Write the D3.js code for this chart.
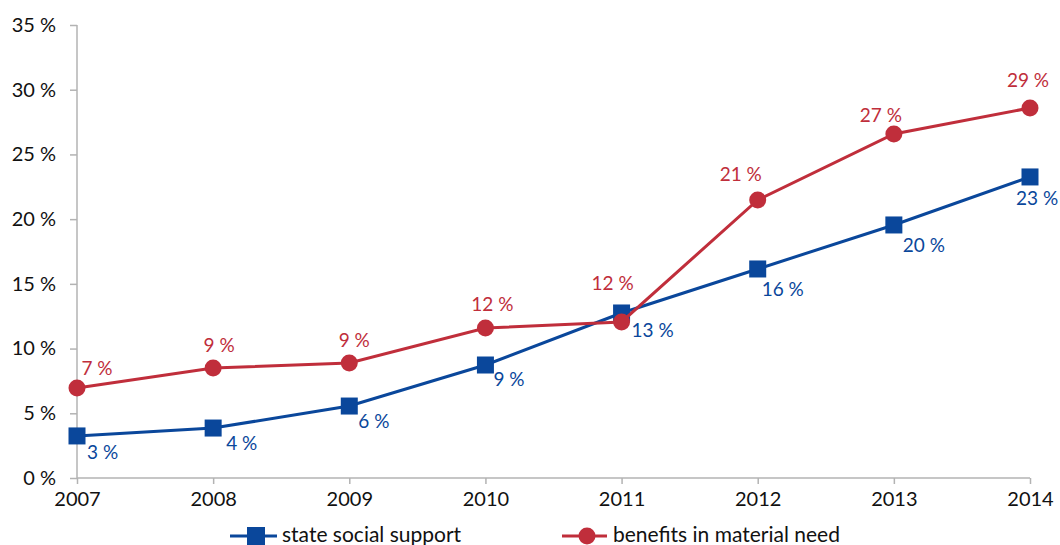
<!DOCTYPE html>
<html><head><meta charset="utf-8">
<script src="https://cdn.jsdelivr.net/npm/d3@7"></script>
<style>body{margin:0;background:#fff}svg{display:block}text{font-family:Lato,sans-serif}</style>
</head><body>
<svg id="c" width="1060" height="545"></svg>
<script>
const years = [2007, 2008, 2009, 2010, 2011, 2012, 2013, 2014];
const stateSocialSupport = [3.25, 3.86, 5.56, 8.73, 12.75, 16.15, 19.55, 23.26];
const benefitsMaterialNeed = [6.95, 8.5, 8.89, 11.59, 12.06, 21.48, 26.58, 28.59];
const yTicks = [0, 5, 10, 15, 20, 25, 30, 35];
const seriesNames = ["state social support", "benefits in material need"];

// label placement (layout only)
const blueLabelDx = [10, 13, 9, 8, 10, 4, 9, -14];
const blueLabelDy = [23, 22, 22, 21, 24, 27, 27, 28];
const redLabelDx = [20, 6, 5, 7, -9, -17, -13, -2];
const redLabelDy = [-13, -16, -16, -17, -32, -19, -12, -21];

const svg = d3.select("#c");
const blue = "#0a479b", red = "#c02e3b", axisCol = "#b3b3b3";
const x = d3.scalePoint().domain(years).range([77, 1030]);
const y = d3.scaleLinear().domain([0, 35]).range([478, 25]);

const ya = svg.append("g").attr("transform", "translate(77,0)")
  .call(d3.axisLeft(y).tickValues(yTicks).tickSize(7).tickPadding(14).tickFormat(d => d + " %"));
const xa = svg.append("g").attr("transform", "translate(0,478)")
  .call(d3.axisBottom(x).tickSize(6).tickPadding(8).tickFormat(d3.format("d")));
[ya, xa].forEach(a => {
  a.selectAll("path,line").attr("stroke", axisCol).attr("stroke-width", 1.5);
  a.selectAll("text").attr("fill", "#111").style("font-size", "20px").style("font-family", "Lato,sans-serif");
});
ya.select("path").attr("d", "M0,25V478");
xa.select("path").attr("d", "M77,0H1030");

const line = d3.line().x((d, i) => x(years[i])).y(d => y(d));

function drawSeries(vals, col, marker, dxs, dys, anchor) {
  svg.append("path").datum(vals).attr("d", line).attr("fill", "none")
    .attr("stroke", col).attr("stroke-width", 3);
  const g = svg.append("g");
  vals.forEach((v, i) => {
    const cx = x(years[i]), cy = y(v);
    if (marker === "sq") g.append("rect").attr("x", cx - 8.5).attr("y", cy - 8.5).attr("width", 17).attr("height", 17).attr("fill", col);
    else g.append("circle").attr("cx", cx).attr("cy", cy).attr("r", 8.5).attr("fill", col);
  });
  vals.forEach((v, i) => {
    const cx = x(years[i]), cy = y(v);
    g.append("text").attr("x", cx + dxs[i]).attr("y", cy + dys[i]).attr("text-anchor", anchor)
      .attr("fill", col).style("font-size", "19px").text(Math.round(v) + " %");
  });
}
drawSeries(stateSocialSupport, blue, "sq", blueLabelDx, blueLabelDy, "start");
drawSeries(benefitsMaterialNeed, red, "ci", redLabelDx, redLabelDy, "middle");

// legend
const lg = svg.append("g");
lg.append("line").attr("x1", 230).attr("x2", 277).attr("y1", 536).attr("y2", 536).attr("stroke", blue).attr("stroke-width", 3);
lg.append("rect").attr("x", 247).attr("y", 527).attr("width", 18).attr("height", 18).attr("fill", blue);
lg.append("text").attr("x", 282).attr("y", 542).attr("fill", "#111").style("font-size", "21px").text(seriesNames[0]);
lg.append("line").attr("x1", 562).attr("x2", 607).attr("y1", 536).attr("y2", 536).attr("stroke", red).attr("stroke-width", 3);
lg.append("circle").attr("cx", 587).attr("cy", 536).attr("r", 8.5).attr("fill", red);
lg.append("text").attr("x", 613).attr("y", 542).attr("fill", "#111").style("font-size", "21px").text(seriesNames[1]);
</script>
</body></html>
